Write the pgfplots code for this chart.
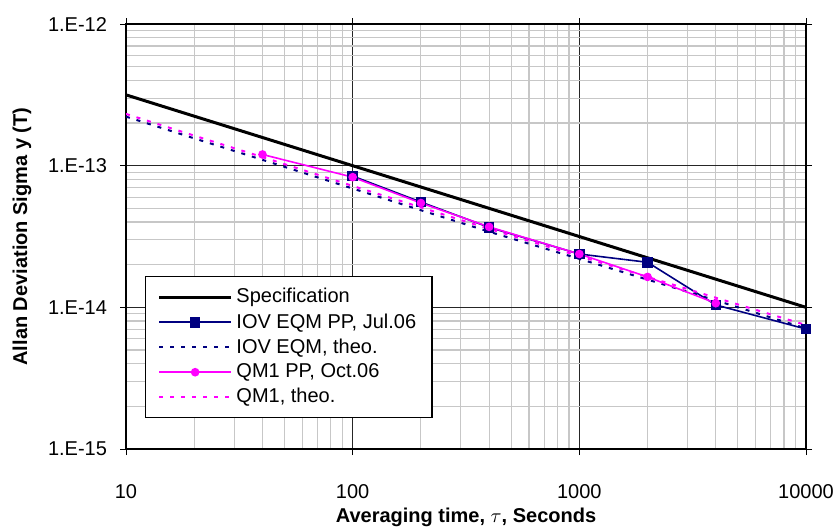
\documentclass[border=0pt]{standalone}
\usepackage{fontspec}
\setmainfont{Liberation Sans}
\usepackage{pgfplots}
\pgfplotsset{compat=1.18}
\definecolor{xlnavy}{RGB}{0,0,128}
\definecolor{xlmag}{RGB}{255,0,255}
\tikzset{
  theo/.style={line width=1pt, dash pattern=on 2pt off 3.5pt},
}
\begin{document}
\begin{tikzpicture}
\useasboundingbox (-63pt,-39pt) rectangle (357pt,224.5pt);
\begin{axis}[
  at={(0,0)}, anchor=south west,
  scale only axis, width=340pt, height=212.5pt,
  xmode=log, ymode=log,
  xmin=10, xmax=10000, ymin=1e-15, ymax=1e-12,
  xtick={10,100,1000,10000}, xticklabels={10,100,1000,10000},
  ytick={1e-15,1e-14,1e-13,1e-12}, yticklabels={1.E-15,1.E-14,1.E-13,1.E-12},
  minor xtick={20,30,40,50,60,70,80,90,200,300,400,500,600,700,800,900,
               2000,3000,4000,5000,6000,7000,8000,9000},
  minor ytick={2e-15,3e-15,4e-15,5e-15,6e-15,7e-15,8e-15,9e-15,
               2e-14,3e-14,4e-14,5e-14,6e-14,7e-14,8e-14,9e-14,
               2e-13,3e-13,4e-13,5e-13,6e-13,7e-13,8e-13,9e-13},
  grid=both,
  major grid style={black!85, line width=0.6pt},
  minor grid style={black!22, line width=0.6pt},
  tick align=outside, major tick length=3pt, minor tick length=0pt,
  tick style={black, line width=0.5pt},
  axis line style={black, line width=0.8pt},
  tick label style={font=\fontsize{10}{12}\selectfont},
  xticklabel style={yshift=-11pt},
  yticklabel style={xshift=-3pt},
  xlabel={\textbf{Averaging time, $\tau$, Seconds}},
  ylabel={\textbf{Allan Deviation Sigma y (T)}},
  label style={font=\fontsize{10}{12}\selectfont},
  every axis x label/.style={at={(axis description cs:0.5,-0.16)}, anchor=center},
  every axis y label/.style={at={(axis description cs:-0.153,0.5)}, anchor=center, rotate=90},
  legend style={at={(0.028,0.407)}, anchor=north west, draw=black, fill=white,
    line width=0.6pt, font=\fontsize{10}{12}\selectfont,
    inner xsep=6pt, inner ysep=4pt, row sep=0pt,
    nodes={inner sep=1.9pt}},
  legend cell align=left,
  legend image code/.code={\draw[mark repeat=2,mark phase=2]
    plot coordinates {(0pt,0pt) (18pt,0pt) (36pt,0pt)};},
]
% Specification
\addplot[black, line width=1.5pt] coordinates {
(10,3.162e-13)(100,1e-13)(1000,3.162e-14)(10000,1e-14)};
\addlegendentry{Specification}
% IOV EQM PP
\addplot[xlnavy, line width=0.8pt, mark=square*, mark size=2.25pt,
  mark options={fill=xlnavy, solid}] coordinates {
(100,8.45e-14)(200,5.54e-14)(400,3.67e-14)(1000,2.38e-14)
(2000,2.08e-14)(4000,1.04e-14)(10000,7.03e-15)};
\addlegendentry{IOV EQM PP, Jul.06}
% IOV EQM theo
\addplot[xlnavy, theo] coordinates {
(10,2.22e-13)(20,1.56e-13)(40,1.10e-13)(100,6.9e-14)(200,4.85e-14)
(400,3.42e-14)(1000,2.2e-14)(2000,1.57e-14)(4000,1.12e-14)(10000,7.1e-15)};
\addlegendentry{IOV EQM, theo.}
% QM1 PP
\addplot[xlmag, line width=0.8pt, mark=*, mark size=1.75pt,
  mark options={fill=xlmag, solid}] coordinates {
(40,1.20e-13)(100,8.3e-14)(200,5.45e-14)(400,3.7e-14)(1000,2.38e-14)
(2000,1.64e-14)(4000,1.07e-14)};
\addlegendentry{QM1 PP, Oct.06}
% QM1 theo
\addplot[xlmag, theo] coordinates {
(10,2.32e-13)(20,1.63e-13)(40,1.15e-13)(100,7.2e-14)(200,5.08e-14)
(400,3.58e-14)(1000,2.3e-14)(2000,1.64e-14)(4000,1.17e-14)(10000,7.5e-15)};
\addlegendentry{QM1, theo.}
\end{axis}
\end{tikzpicture}
\end{document}
